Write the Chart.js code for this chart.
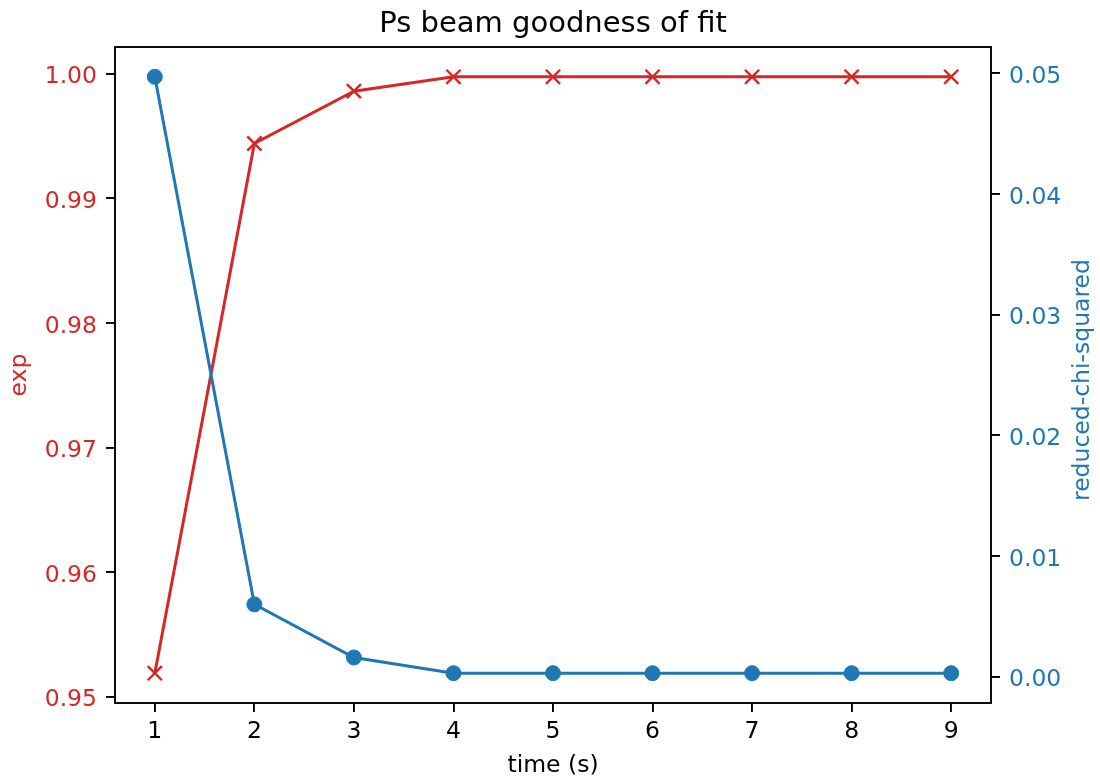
<!DOCTYPE html>
<html><head><meta charset="utf-8">
<script src="https://cdn.jsdelivr.net/npm/chart.js@4/dist/chart.umd.min.js"></script>
<style>html,body{margin:0;padding:0;background:#fff}canvas{display:block}</style>
</head><body>
<canvas id="c" width="1100" height="780"></canvas>
<script>
const times = [1, 2, 3, 4, 5, 6, 7, 8, 9];
const expValues = [0.9519, 0.9944, 0.9986, 0.99975, 0.99975, 0.99975, 0.99975, 0.99975, 0.99975];
const chiValues = [0.0497, 0.0060, 0.0016, 0.0003, 0.0003, 0.0003, 0.0003, 0.0003, 0.0003];
const xTicks = [1, 2, 3, 4, 5, 6, 7, 8, 9];
const expTicks = [0.95, 0.96, 0.97, 0.98, 0.99, 1.00];
const chiTicks = [0.00, 0.01, 0.02, 0.03, 0.04, 0.05];

const RED = '#d62728', BLUE = '#1f77b4';
const FONT = "'DejaVu Sans', sans-serif";
const FS = 23.5;

function padRange(arr, m) {
  const lo = Math.min(...arr), hi = Math.max(...arr), d = (hi - lo) * m;
  return [lo - d, hi + d];
}
const xr = padRange(times, 0.05);
const er = padRange(expValues, 0.05);
const cr = padRange(chiValues, 0.05);

const framePlugin = {
  id: 'frame',
  afterDraw(chart) {
    const {ctx, chartArea: a} = chart;
    ctx.save();
    ctx.strokeStyle = '#000';
    ctx.lineWidth = 1.9;
    ctx.strokeRect(a.left, a.top, a.right - a.left, a.bottom - a.top);
    // right axis title, reading bottom to top
    ctx.translate(1083, 380);
    ctx.rotate(-Math.PI / 2);
    ctx.fillStyle = BLUE;
    ctx.font = FS + 'px ' + FONT;
    ctx.textAlign = 'center';
    ctx.textBaseline = 'middle';
    ctx.fillText('reduced-chi-squared', 0, 0);
    ctx.restore();
  }
};

function gridOpts() {
  return {drawOnChartArea: false, drawTicks: true, tickLength: 9, tickColor: '#000', tickWidth: 1.9, lineWidth: 1.9, color: '#000'};
}

new Chart(document.getElementById('c'), {
  type: 'line',
  data: {
    datasets: [
      {
        label: 'reduced-chi-squared',
        data: times.map((t, i) => ({x: t, y: chiValues[i]})),
        yAxisID: 'y1',
        borderColor: BLUE,
        backgroundColor: BLUE,
        borderWidth: 3,
        pointStyle: 'circle',
        pointRadius: 7.5,
        pointBorderWidth: 1,
        pointBackgroundColor: BLUE,
        pointBorderColor: BLUE,
        tension: 0,
        order: 0
      },
      {
        label: 'exp',
        data: times.map((t, i) => ({x: t, y: expValues[i]})),
        yAxisID: 'y',
        borderColor: RED,
        backgroundColor: RED,
        borderWidth: 3,
        pointStyle: 'crossRot',
        pointRadius: 10,
        pointBorderWidth: 2.4,
        pointBorderColor: RED,
        tension: 0,
        order: 1
      }
    ]
  },
  options: {
    responsive: false,
    animation: false,
    devicePixelRatio: 1,
    layout: {padding: 0},
    plugins: {
      legend: {display: false},
      tooltip: {enabled: false},
      title: {
        display: true,
        text: 'Ps beam goodness of fit',
        color: '#000',
        font: {family: FONT, size: 29, weight: 'normal'},
        padding: {top: 7, bottom: 5.2},
        fullSize: false
      }
    },
    scales: {
      x: {
        type: 'linear',
        min: xr[0], max: xr[1],
        afterBuildTicks: s => { s.ticks = xTicks.map(v => ({value: v})); },
        afterFit: s => { s.height = 77; },
        border: {display: false},
        grid: gridOpts(),
        ticks: {color: '#000', font: {family: FONT, size: FS}, padding: 6, maxRotation: 0, autoSkip: false,
          callback: v => String(v)},
        title: {display: true, text: 'time (s)', color: '#000', font: {family: FONT, size: FS}, padding: {top: 0, bottom: 0.5}}
      },
      y: {
        type: 'linear', position: 'left',
        min: er[0], max: er[1],
        afterBuildTicks: s => { s.ticks = expTicks.map(v => ({value: v})); },
        afterFit: s => { s.width = 115; },
        border: {display: false},
        grid: gridOpts(),
        ticks: {color: RED, font: {family: FONT, size: FS}, padding: 9, labelOffset: 3.5, autoSkip: false,
          callback: v => v.toFixed(2)},
        title: {display: true, text: 'exp', color: RED, font: {family: FONT, size: FS}, padding: {top: 5.5, bottom: 0}}
      },
      y1: {
        type: 'linear', position: 'right',
        min: cr[0], max: cr[1],
        afterBuildTicks: s => { s.ticks = chiTicks.map(v => ({value: v})); },
        afterFit: s => { s.width = 109; },
        border: {display: false},
        grid: gridOpts(),
        ticks: {color: BLUE, font: {family: FONT, size: FS}, padding: 9, labelOffset: 3.5, autoSkip: false,
          callback: v => v.toFixed(2)},
        title: {display: false}
      }
    }
  },
  plugins: [framePlugin]
});
</script>
</body></html>
